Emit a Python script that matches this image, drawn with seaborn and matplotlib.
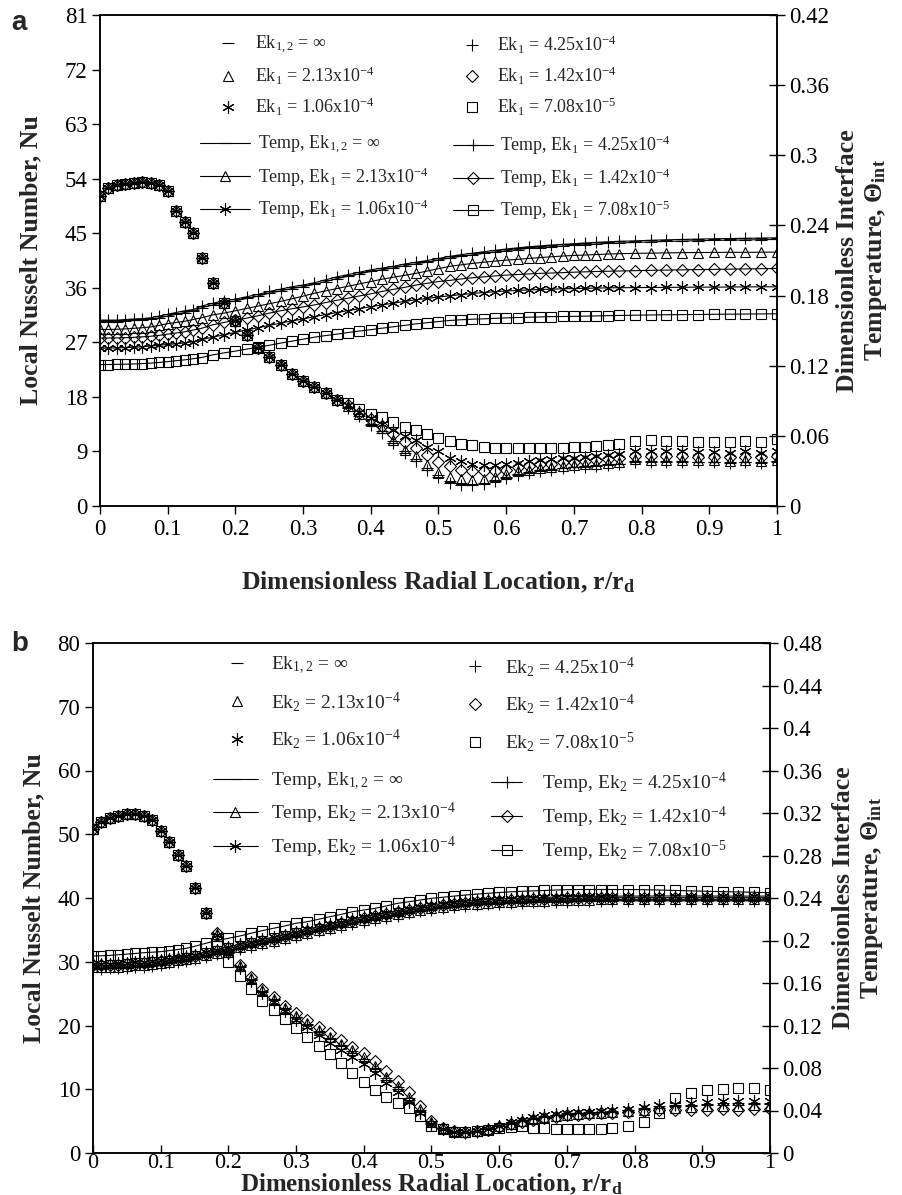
import matplotlib
matplotlib.use("Agg")
import matplotlib.pyplot as plt
from matplotlib.legend import Legend
import seaborn as sns

# ── Data ───────────────────────────────────────────────────────────────────────
r = [0, 0.0125, 0.025, 0.0375, 0.05, 0.0625, 0.075, 0.0875, 0.1, 0.1125, 0.125, 0.1375, 0.15,
     0.1667, 0.1833, 0.2, 0.2167, 0.2333, 0.25, 0.2667, 0.2833, 0.3, 0.3167, 0.3333, 0.35,
     0.3667, 0.3833, 0.4, 0.4167, 0.4333, 0.45, 0.4667, 0.4833, 0.5, 0.5167, 0.5333, 0.55,
     0.5667, 0.5833, 0.6, 0.6167, 0.6333, 0.65, 0.6667, 0.6833, 0.7, 0.7167, 0.7333, 0.75,
     0.7667, 0.79, 0.8133, 0.8367, 0.86, 0.8833, 0.9067, 0.93, 0.9533, 0.9767, 1.0]

# panel a, Nusselt number (identical for all cases up to r = 0.35)
nu_a_common = [51.2, 52.4, 52.9, 53.2, 53.3, 53.4, 53.3, 53.0, 52.0, 48.7, 46.8, 45.0, 40.9,
               36.8, 33.5, 30.6, 28.2, 26.0, 24.5, 23.2, 21.8, 20.6, 19.6, 18.6, 17.5]
nu_a_inf = [16.4, 15.1, 13.6, 12.4, 10.7, 9.0, 7.7, 6.3, 5.1, 4.1, 3.8, 3.7, 3.8, 4.3, 4.8, 5.2,
            5.6, 5.9, 6.1, 6.3, 6.5, 6.6, 6.7, 6.9, 7.0, 7.4, 7.4, 7.4, 7.4, 7.3, 7.3, 7.2, 7.3, 7.2, 7.4]
nu_a_425 = [16.2, 14.9, 13.3, 12.1, 10.4, 8.8, 7.4, 6.0, 4.8, 3.8, 3.5, 3.5, 3.6, 4.2, 4.7, 5.1,
            5.5, 5.8, 6.0, 6.2, 6.4, 6.5, 6.6, 6.8, 6.9, 7.3, 7.3, 7.3, 7.2, 7.2, 7.2, 7.1, 7.2, 7.1, 7.3]
nu_a_213 = [16.5, 15.2, 14.0, 12.9, 10.9, 9.2, 8.2, 6.8, 5.4, 4.8, 4.4, 4.3, 4.5, 4.8, 5.3, 5.7,
            6.0, 6.2, 6.4, 6.6, 6.8, 6.9, 7.0, 7.1, 7.3, 7.7, 7.6, 7.6, 7.6, 7.6, 7.6, 7.5, 7.6, 7.5, 7.6]
nu_a_142 = [16.6, 15.4, 14.3, 13.2, 11.8, 10.6, 9.5, 8.4, 7.3, 6.6, 6.0, 5.7, 5.7, 5.8, 6.0, 6.4,
            6.6, 6.9, 7.0, 7.2, 7.3, 7.4, 7.6, 7.7, 7.9, 8.2, 8.2, 8.2, 8.2, 8.1, 8.1, 8.1, 8.1, 8.1, 8.2]
nu_a_106 = [16.7, 15.5, 14.5, 13.5, 12.6, 11.6, 10.9, 9.8, 9.0, 8.0, 7.5, 6.9, 6.8, 6.8, 6.9, 7.1,
            7.4, 7.6, 7.7, 7.9, 8.0, 8.1, 8.2, 8.4, 8.6, 9.0, 9.0, 9.0, 9.0, 8.9, 8.9, 8.8, 9.0, 8.8, 9.0]
nu_a_708 = [17.0, 16.0, 15.2, 14.6, 13.9, 13.1, 12.5, 11.8, 11.3, 10.7, 10.3, 10.0, 9.7, 9.5, 9.5,
            9.5, 9.5, 9.6, 9.6, 9.6, 9.7, 9.8, 9.9, 10.0, 10.3, 10.7, 10.9, 10.7, 10.7, 10.6, 10.6,
            10.5, 10.7, 10.6, 11.0]

# panel a, interface temperature
t_a_inf = [.1578, .1578, .1578, .1582, .1587, .159, .1597, .161, .1625, .164, .1655, .1667, .1695,
           .172, .174, .1755, .1775, .1795, .182, .184, .186, .1876, .1896, .192, .1945, .1965,
           .1986, .2006, .2021, .2036, .2056, .2071, .2086, .2104, .2121, .2136, .2148, .2161,
           .2173, .2184, .2194, .2204, .2211, .2218, .2224, .223, .2236, .2241, .2246, .225,
           .2254, .2259, .2263, .2266, .2269, .2272, .2274, .2276, .2278, .228]
t_a_425 = [.159, .159, .159, .1595, .160, .1603, .161, .1625, .164, .1655, .167, .168, .171, .1735,
           .1755, .177, .179, .181, .1835, .1855, .1875, .189, .191, .1935, .196, .198, .200, .202,
           .2035, .205, .207, .2085, .210, .2118, .2135, .215, .2162, .2175, .2187, .2198, .2208,
           .2218, .2225, .2232, .2238, .2244, .225, .2255, .226, .2264, .2268, .2273, .2277, .228,
           .2283, .2286, .2288, .229, .2292, .2294]
t_a_213 = [.151, .151, .1512, .1515, .152, .1525, .1532, .1545, .156, .157, .158, .1595, .161, .1635,
           .165, .167, .169, .171, .173, .175, .1772, .1795, .182, .184, .186, .188, .190, .192,
           .194, .1957, .1973, .199, .201, .203, .205, .2063, .2075, .2085, .2095, .2103, .211,
           .2118, .2125, .2132, .2138, .2143, .2147, .2151, .2155, .2158, .2161, .2163, .2165,
           .2167, .2168, .2169, .217, .217, .2171, .2172]
t_a_142 = [.1436, .1437, .1438, .144, .1443, .1447, .1452, .146, .147, .148, .149, .1505, .152, .155,
           .157, .159, .1607, .1627, .165, .167, .1687, .1703, .172, .174, .176, .1778, .1797,
           .1815, .1835, .1853, .187, .189, .1905, .192, .193, .1942, .1952, .196, .1968, .1975,
           .198, .1985, .199, .1993, .1996, .2, .2003, .2006, .2008, .201, .2013, .2016, .2018,
           .202, .2022, .2024, .2026, .2028, .203, .2032]
t_a_106 = [.135, .135, .1352, .1355, .1358, .1362, .1368, .1375, .1382, .1388, .1395, .1405, .1425,
           .1444, .1465, .1485, .1507, .1525, .1545, .1564, .1583, .16, .162, .1638, .1655, .1672,
           .1688, .1705, .172, .1735, .175, .1764, .1776, .1788, .1798, .1808, .1818, .1826,
           .1833, .1839, .1844, .1848, .1852, .1855, .1858, .186, .1862, .1864, .1866, .1867,
           .1868, .1869, .187, .1871, .1872, .1872, .1873, .1874, .1875, .1875]
t_a_708 = [.121, .121, .1212, .1213, .1215, .1218, .1222, .1228, .1235, .1243, .125, .126, .127,
           .1293, .131, .1325, .1342, .1358, .1375, .1393, .141, .1427, .1444, .1458, .147, .1484,
           .1497, .1508, .1521, .1533, .1545, .1558, .1568, .1578, .1587, .1593, .1598, .1601,
           .1605, .1609, .1612, .1615, .1617, .162, .1621, .1622, .1624, .1626, .1628, .163,
           .1632, .1634, .1636, .1637, .1638, .164, .1641, .1642, .1643, .1644]

# panel b, Nusselt number (identical for all cases up to r = 0.1667)
nu_b_common = [50.8, 52.0, 52.6, 52.9, 53.1, 53.1, 52.9, 52.3, 50.5, 48.8, 46.8, 45.0, 41.6, 37.6]
nu_b_inf = [34.4, 31.5, 29.3, 27.3, 25.4, 24.1, 22.7, 21.4, 20.3, 19.2, 18.1, 17.0, 16.0, 14.8,
            13.4, 11.8, 10.3, 8.6, 6.7, 4.7, 3.9, 3.4, 3.3, 3.4, 3.7, 4.2, 4.6, 5.0, 5.4, 5.7, 5.9,
            6.1, 6.2, 6.3, 6.4, 6.5, 6.7, 6.9, 7.1, 7.3, 7.4, 7.5, 7.6, 7.6, 7.7, 7.7]
nu_b_425 = [34.4, 31.4, 29.2, 27.2, 25.3, 24.0, 22.6, 21.3, 20.1, 19.0, 17.9, 16.8, 15.7, 14.5,
            13.1, 11.5, 10.0, 8.3, 6.5, 4.6, 3.8, 3.3, 3.2, 3.3, 3.7, 4.2, 4.7, 5.1, 5.5, 5.8, 6.0,
            6.2, 6.3, 6.4, 6.5, 6.6, 6.8, 7.1, 7.3, 7.5, 7.6, 7.7, 7.8, 7.8, 7.9, 7.9]
nu_b_213 = [34.4, 31.5, 29.3, 27.4, 25.5, 24.2, 22.8, 21.5, 20.4, 19.3, 18.2, 17.1, 16.1, 15.0,
            13.6, 12.0, 10.5, 8.8, 6.9, 4.8, 3.9, 3.4, 3.3, 3.4, 3.7, 4.2, 4.6, 5.0, 5.3, 5.6, 5.8,
            6.0, 6.1, 6.2, 6.3, 6.4, 6.6, 6.8, 7.0, 7.1, 7.2, 7.3, 7.4, 7.4, 7.5, 7.5]
nu_b_142 = [34.5, 31.6, 29.5, 27.6, 25.8, 24.5, 23.1, 21.9, 20.8, 19.8, 18.8, 17.7, 16.7, 15.7,
            14.4, 12.9, 11.3, 9.5, 7.3, 5.0, 4.0, 3.4, 3.3, 3.4, 3.6, 4.1, 4.5, 4.9, 5.2, 5.5, 5.7,
            5.9, 6.0, 6.1, 6.2, 6.3, 6.4, 6.6, 6.7, 6.8, 6.8, 6.8, 6.9, 6.8, 6.9, 6.9]
nu_b_106 = [34.2, 31.3, 29.0, 27.0, 25.1, 23.7, 22.3, 20.9, 19.7, 18.5, 17.3, 16.1, 15.0, 13.9,
            12.5, 11.0, 9.6, 8.0, 6.3, 4.5, 3.7, 3.3, 3.3, 3.4, 3.8, 4.3, 4.8, 5.2, 5.6, 5.9, 6.1,
            6.3, 6.4, 6.5, 6.6, 6.7, 6.9, 7.2, 7.5, 7.7, 7.9, 8.0, 8.1, 8.1, 8.2, 8.2]
nu_b_708 = [32.5, 30.0, 27.8, 25.8, 23.9, 22.4, 21.0, 19.6, 18.2, 16.8, 15.5, 14.1, 12.6, 11.1,
            9.9, 8.8, 7.9, 7.0, 5.8, 4.3, 3.7, 3.3, 3.3, 3.4, 3.6, 3.9, 4.1, 4.2, 4.0, 3.9, 3.8,
            3.8, 3.8, 3.8, 3.8, 3.9, 4.2, 4.8, 6.3, 8.6, 9.4, 9.9, 10.1, 10.2, 10.2, 9.9]

# panel b, interface temperature
t_b_inf = [.1742, .1742, .1744, .1747, .1752, .1757, .1762, .177, .178, .1792, .1804, .1817, .183,
           .1854, .1877, .1902, .1927, .195, .1972, .1992, .2017, .2044, .2067, .2092, .2114,
           .2138, .2162, .2185, .2204, .2222, .2242, .2263, .2282, .2297, .231, .2322, .2332,
           .234, .2347, .2352, .2357, .2361, .2365, .2368, .2371, .2373, .2375, .2377, .2378,
           .2379, .238, .238, .238, .238, .238, .238, .238, .238, .238, .238]
t_b_425 = [.1735, .1735, .1737, .174, .1745, .175, .1755, .1763, .1773, .1785, .1797, .181, .1823,
           .1847, .187, .1895, .192, .1943, .1965, .1985, .201, .2037, .206, .2085, .2107, .2131,
           .2155, .2178, .2197, .2215, .2235, .2256, .2275, .229, .2303, .2315, .2325, .2333,
           .234, .2345, .235, .2354, .2358, .2361, .2364, .2366, .2368, .237, .2371, .2372,
           .2373, .2373, .2373, .2373, .2373, .2373, .2373, .2373, .2373, .2373]
t_b_213 = [.175, .175, .1752, .1755, .176, .1765, .177, .1778, .1788, .18, .1812, .1825, .1838,
           .1862, .1885, .191, .1935, .1958, .198, .2, .2025, .2052, .2075, .21, .2122, .2146,
           .217, .2193, .2212, .223, .225, .2271, .229, .2305, .2318, .233, .234, .2348, .2355,
           .236, .2365, .2369, .2373, .2376, .2379, .2381, .2383, .2385, .2386, .2387, .2388,
           .2388, .2388, .2388, .2388, .2388, .2388, .2388, .2388, .2388]
t_b_142 = [.1765, .1765, .1767, .177, .1775, .178, .1785, .1793, .1803, .1815, .1827, .184, .1853,
           .1877, .19, .1925, .195, .1973, .1995, .2015, .204, .2067, .209, .2115, .2137, .2161,
           .2185, .2208, .2227, .2245, .2265, .2286, .2305, .232, .2333, .2345, .2355, .2363,
           .237, .2375, .238, .2384, .2388, .2391, .2394, .2396, .2398, .24, .2401, .2402,
           .2403, .2403, .2403, .2403, .2403, .2403, .2403, .2403, .2403, .2403]
t_b_106 = [.178, .178, .1782, .1785, .179, .1795, .18, .1808, .1818, .183, .1842, .1855, .1868,
           .1892, .1915, .194, .1965, .1988, .201, .203, .2055, .2082, .2105, .213, .2152, .2176,
           .22, .2223, .2242, .226, .228, .2301, .232, .2335, .2348, .236, .237, .2378, .2385,
           .239, .2395, .2399, .2403, .2406, .2409, .2411, .2413, .2415, .2416, .2417, .2418,
           .2418, .2419, .2419, .2419, .2419, .2418, .2418, .2418, .2418]
t_b_708 = [.1854, .1856, .186, .1866, .1872, .1878, .1885, .189, .1895, .1905, .1915, .1926, .1945,
           .1974, .2, .2021, .2042, .2068, .2093, .2115, .2137, .2162, .2177, .22, .2224, .2246,
           .2271, .2287, .2303, .2325, .235, .2365, .2381, .2397, .2407, .2418, .2428, .2437,
           .2444, .2452, .2458, .2463, .2467, .2471, .2475, .2478, .248, .248, .248, .248, .248,
           .2478, .2475, .2471, .2467, .2463, .246, .2457, .2454, .245]

CASES = ["inf", "425", "213", "142", "106", "708"]
EK_TEXT = {"425": "4.25x10$^{-4}$", "213": "2.13x10$^{-4}$", "142": "1.42x10$^{-4}$",
           "106": "1.06x10$^{-4}$", "708": "7.08x10$^{-5}$"}

x_ticks = [0, 0.1, 0.2, 0.3, 0.4, 0.5, 0.6, 0.7, 0.8, 0.9, 1.0]
x_ticklabels = ["0", "0.1", "0.2", "0.3", "0.4", "0.5", "0.6", "0.7", "0.8", "0.9", "1"]
nu_ticks_a = [0, 9, 18, 27, 36, 45, 54, 63, 72, 81]
t_ticks_a = [0, 0.06, 0.12, 0.18, 0.24, 0.3, 0.36, 0.42]
t_ticklabels_a = ["0", "0.06", "0.12", "0.18", "0.24", "0.3", "0.36", "0.42"]
nu_ticks_b = [0, 10, 20, 30, 40, 50, 60, 70, 80]
t_ticks_b = [0, 0.04, 0.08, 0.12, 0.16, 0.2, 0.24, 0.28, 0.32, 0.36, 0.4, 0.44, 0.48]
t_ticklabels_b = ["0", "0.04", "0.08", "0.12", "0.16", "0.2", "0.24", "0.28", "0.32",
                  "0.36", "0.4", "0.44", "0.48"]

# ── Style ──────────────────────────────────────────────────────────────────────
sns.set_theme(style="ticks")
plt.rcParams["font.family"] = ["Liberation Serif", "DejaVu Serif"]
plt.rcParams["mathtext.fontset"] = "custom"
plt.rcParams["mathtext.rm"] = "Liberation Serif"
plt.rcParams["mathtext.it"] = "Liberation Serif:italic"
plt.rcParams["mathtext.bf"] = "Liberation Serif:bold"
plt.rcParams["axes.linewidth"] = 1.1
plt.rcParams["axes.edgecolor"] = "black"

W, H = 903, 1195
MARKER = {"inf": "_", "425": "+", "213": "^", "142": "D", "106": (6, 2, 0), "708": "s"}
MSIZE = {"inf": 8, "425": 9, "213": 7, "142": 6, "106": 9, "708": 6.5}
TICK_FS = 16.5
LABEL_FS = 18.5

fig = plt.figure(figsize=(W / 100, H / 100), dpi=100)


def add_legend(ax, hs, x_px, y_px, fs, hl, pad, spacing):
    leg = Legend(ax, hs, [h.get_label() for h in hs], loc="upper left",
                 bbox_to_anchor=(x_px / W, 1 - y_px / H), bbox_transform=fig.transFigure,
                 frameon=False, fontsize=fs, handlelength=hl, handletextpad=pad,
                 labelspacing=spacing, borderpad=0, borderaxespad=0)
    ax.add_artist(leg)


def draw_panel(ax, nu, temp, sub, nu_ticks, t_ticks, t_ticklabels):
    ax2 = ax.twinx()
    handles = {}
    for key in CASES:
        ek = "Ek$_{1,2}$ = ∞" if key == "inf" else f"Ek$_{sub}$ = {EK_TEXT[key]}"
        sns.lineplot(x=r, y=nu[key], ax=ax, marker=MARKER[key], linestyle="none",
                     color="black", fillstyle="none", mec="black", mew=0.8, ms=MSIZE[key],
                     estimator=None, sort=False, legend=False, label=ek)
        sns.lineplot(x=r, y=temp[key], ax=ax2, marker=MARKER[key], linewidth=0.8,
                     color="black", fillstyle="none", mec="black", mew=0.8, ms=MSIZE[key],
                     estimator=None, sort=False, legend=False, label="Temp, " + ek)
        handles["nu" + key] = ax.get_lines()[-1]
        handles["t" + key] = ax2.get_lines()[-1]

    ax.set_xlim(0, 1)
    ax.set_ylim(nu_ticks[0], nu_ticks[-1])
    ax2.set_ylim(t_ticks[0], t_ticks[-1])
    ax.set_xticks(x_ticks)
    ax.set_xticklabels(x_ticklabels)
    ax.set_yticks(nu_ticks)
    ax.set_yticklabels([str(v) for v in nu_ticks])
    ax2.set_yticks(t_ticks)
    ax2.set_yticklabels(t_ticklabels)
    ax.tick_params(axis="both", direction="out", length=6, width=1, labelsize=TICK_FS,
                   colors="black", pad=3)
    ax2.tick_params(axis="y", direction="inout", length=11, width=1, labelsize=TICK_FS,
                    colors="black", pad=3)
    for sp in list(ax.spines.values()) + list(ax2.spines.values()):
        sp.set_color("black")

    ax.set_ylabel("Local Nusselt Number, Nu", fontsize=LABEL_FS, fontweight="bold")
    ax2.set_ylabel("Dimensionless Interface\nTemperature, Θ$_{\\mathbf{int}}$",
                   fontsize=LABEL_FS, fontweight="bold")
    ax.set_xlabel("Dimensionless Radial Location, r/r$_\\mathbf{d}$", fontsize=LABEL_FS,
                  fontweight="bold")
    ax.xaxis.label.set_verticalalignment("baseline")
    return ax2, handles


ax_a = fig.add_axes([100 / W, 1 - 506 / H, 677 / W, 491 / H])
ax_b = fig.add_axes([93 / W, 1 - 1153 / H, 677 / W, 510 / H])

nu_a = {"inf": nu_a_common + nu_a_inf, "425": nu_a_common + nu_a_425,
        "213": nu_a_common + nu_a_213, "142": nu_a_common + nu_a_142,
        "106": nu_a_common + nu_a_106, "708": nu_a_common + nu_a_708}
t_a = {"inf": t_a_inf, "425": t_a_425, "213": t_a_213, "142": t_a_142,
       "106": t_a_106, "708": t_a_708}
nu_b = {"inf": nu_b_common + nu_b_inf, "425": nu_b_common + nu_b_425,
        "213": nu_b_common + nu_b_213, "142": nu_b_common + nu_b_142,
        "106": nu_b_common + nu_b_106, "708": nu_b_common + nu_b_708}
t_b = {"inf": t_b_inf, "425": t_b_425, "213": t_b_213, "142": t_b_142,
       "106": t_b_106, "708": t_b_708}

ax2_a, h_a = draw_panel(ax_a, nu_a, t_a, "1", nu_ticks_a, t_ticks_a, t_ticklabels_a)
ax2_b, h_b = draw_panel(ax_b, nu_b, t_b, "2", nu_ticks_b, t_ticks_b, t_ticklabels_b)

# axis label placement (axes fractions)
ax_a.yaxis.set_label_coords((42 - 100) / 677, 0.5)
ax2_a.yaxis.set_label_coords((836 - 100) / 677, 0.5)
ax_a.xaxis.set_label_coords(0.5, (506 - 589) / 491)
ax_b.yaxis.set_label_coords((45 - 93) / 677, 0.5)
ax2_b.yaxis.set_label_coords((832 - 93) / 677, 0.5)
ax_b.xaxis.set_label_coords(0.5, (1153 - 1191) / 510)
ax_b.xaxis.label.set_fontsize(18)
ax_b.tick_params(axis="x", direction="in", length=6, pad=1, labelsize=16)

# legends: Nusselt rows on top, temperature rows below, two columns each
add_legend(ax2_a, [h_a["nuinf"], h_a["nu213"], h_a["nu106"]], 210, 34, 13, 2.0, 0.5, 0.5)
add_legend(ax2_a, [h_a["nu425"], h_a["nu142"], h_a["nu708"]], 454, 34, 13, 2.0, 0.39, 0.5)
add_legend(ax2_a, [h_a["tinf"], h_a["t213"], h_a["t106"]], 200, 134, 13, 2.75, 0.47, 0.5)
add_legend(ax2_a, [h_a["t425"], h_a["t142"], h_a["t708"]], 453, 134, 13, 2.22, 0.39, 0.5)

add_legend(ax2_b, [h_b["nuinf"], h_b["nu213"], h_b["nu106"]], 218, 655, 14, 2.0, 0.75, 0.7)
add_legend(ax2_b, [h_b["nu425"], h_b["nu142"], h_b["nu708"]], 456, 655, 14, 2.0, 0.5, 0.7)
add_legend(ax2_b, [h_b["tinf"], h_b["t213"], h_b["t106"]], 213, 771, 14, 2.3, 0.67, 0.45)
add_legend(ax2_b, [h_b["t425"], h_b["t142"], h_b["t708"]], 491, 771, 14, 1.6, 1.03, 0.45)

fig.text(11 / W, 1 - 10 / H, "a", fontsize=20, fontweight="bold",
         family="Liberation Sans", va="top")
fig.text(11 / W, 1 - 631 / H, "b", fontsize=20, fontweight="bold",
         family="Liberation Sans", va="top")

fig.savefig("out.png", dpi=100)
